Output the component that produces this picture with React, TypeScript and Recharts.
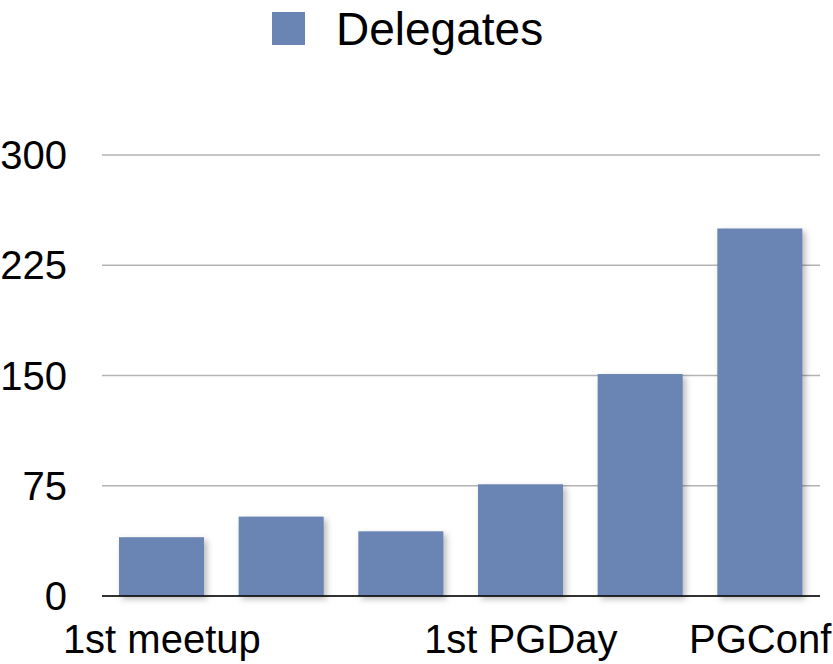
import { BarChart, Bar, XAxis, YAxis, CartesianGrid, Legend } from "recharts";

// one slot per event; only some are labelled on the axis
const xLabels = ["1st meetup", "", "", "1st PGDay", "", "PGConf"];
const delegates = [40, 54, 44, 76, 151, 250];
const yTicks = [0, 75, 150, 225, 300];

const BAR_COLOR = "#6a85b4";
const FONT = "'Liberation Sans', Arial, Helvetica, sans-serif";

const data = xLabels.map((label, i) => ({ slot: i, label, delegates: delegates[i] }));

function LegendBox() {
  return (
    <div style={{ position: "relative", width: 833, height: 60, fontFamily: FONT }}>
      <div
        style={{
          position: "absolute",
          left: 272,
          top: 12,
          width: 33,
          height: 33,
          background: BAR_COLOR,
        }}
      />
      <div
        style={{
          position: "absolute",
          left: 336,
          top: 3,
          fontSize: 46,
          lineHeight: "52px",
          color: "#000",
        }}
      >
        Delegates
      </div>
    </div>
  );
}

function ShadowBar(props: any) {
  const { x, y, width, height, fill } = props;
  if (!height || height <= 0) return null;
  return (
    <rect
      x={x}
      y={y}
      width={width}
      height={height}
      fill={fill}
      style={{ filter: "drop-shadow(3px 3px 3px rgba(0,0,0,0.28))" }}
    />
  );
}

export default function App() {
  return (
    <div style={{ position: "absolute", left: 0, top: 0, width: 833, height: 664, background: "#fff" }}>
      <BarChart
        width={833}
        height={664}
        data={data}
        margin={{ top: 155, right: 13, left: 0, bottom: 0 }}
        barSize={85}
        style={{ fontFamily: FONT }}
      >
        <CartesianGrid vertical={false} stroke="#b3b3b3" strokeWidth={1.5} />
        <XAxis
          dataKey="slot"
          type="category"
          interval={0}
          height={68}
          tickLine={false}
          tickSize={0}
          tickMargin={29}
          axisLine={{ stroke: "#000", strokeWidth: 1.5 }}
          tickFormatter={(i: number) => xLabels[i]}
          tick={{ fontSize: 40, fill: "#000", fontFamily: FONT }}
        />
        <YAxis
          domain={[0, 300]}
          ticks={yTicks}
          width={102}
          axisLine={false}
          tickLine={false}
          tickSize={0}
          tickMargin={35}
          tick={{ fontSize: 40, fill: "#000", fontFamily: FONT }}
        />
        <Legend
          layout="horizontal"
          verticalAlign="middle"
          align="center"
          wrapperStyle={{ top: 0, left: 0, width: 833 }}
          content={() => <LegendBox />}
        />
        <Bar
          dataKey="delegates"
          name="Delegates"
          fill={BAR_COLOR}
          shape={ShadowBar}
          isAnimationActive={false}
        />
      </BarChart>
    </div>
  );
}
